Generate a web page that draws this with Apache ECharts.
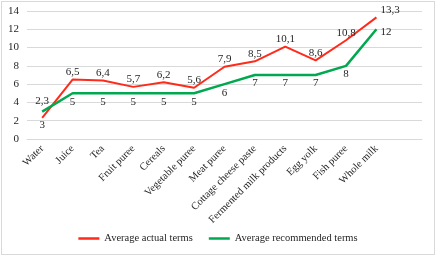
<!DOCTYPE html>
<html><head><meta charset="utf-8">
<script src="https://cdn.jsdelivr.net/npm/echarts@6/dist/echarts.min.js"></script>
<style>html,body{margin:0;padding:0;background:#fff}
#wrap{position:absolute;left:1px;top:1px;width:432px;height:252px;border:1px solid #d9d9d9;}
#c{position:absolute;left:0;top:0;width:436px;height:256px}</style>
</head><body><div id="wrap"></div><div id="c"></div>
<script>
var categories = ['Water','Juice','Tea','Fruit puree','Cereals','Vegetable puree','Meat puree','Cottage cheese paste','Fermented milk products','Egg yolk','Fish puree','Whole milk',''];
var actual = [2.3, 6.5, 6.4, 5.7, 6.2, 5.6, 7.9, 8.5, 10.1, 8.6, 10.8, 13.3];
var recommended = [3, 5, 5, 5, 5, 5, 6, 7, 7, 7, 8, 12];
var yTicks = [0, 2, 4, 6, 8, 10, 12, 14];

var font = '"Liberation Serif", "Times New Roman", serif';
var chart = echarts.init(document.getElementById('c'));
function fmt(p){ return String(p.value).replace('.', ','); }
var last = recommended.length - 1;
var greenData = recommended.map(function(v, i){
  if (i === last) return {value: v, label: {position: 'right', distance: 4, offset:[0,3]}};
  if (i === 0) return {value: v, label: {distance: 8}};
  return v;
});
var redData = actual.map(function(v, i){
  if (i === last) return {value: v, label: {position: 'right', distance: 4, offset:[0,-7]}};
  if (i === 0) return {value: v, label: {distance: 11}};
  return v;
});
chart.setOption({
  animation: false,
  grid: {left: 27, right: 14, top: 11, bottom: 117, containLabel: false},
  legend: {
    bottom: 7, left: 'center', icon: 'rect', itemWidth: 21, itemHeight: 2.5, itemGap: 16, itemTextGap: 2,
    textStyle: {fontFamily: font, fontSize: 10.5, color: '#262626'},
    data: ['Average actual terms', 'Average recommended terms']
  },
  xAxis: {
    type: 'category', data: categories, boundaryGap: true,
    axisLine: {lineStyle: {color: '#d9d9d9'}}, axisTick: {show: false},
    axisLabel: {rotate: 45, interval: 0, fontFamily: font, fontSize: 10.5, color: '#262626', margin: 8}
  },
  yAxis: {
    type: 'value', min: yTicks[0], max: yTicks[yTicks.length-1], interval: 2,
    axisLine: {show: false}, axisTick: {show: false},
    splitLine: {lineStyle: {color: '#d9d9d9', width: 1}},
    axisLabel: {fontFamily: font, fontSize: 11, color: '#262626', margin: 8}
  },
  series: [
    {name: 'Average actual terms', type: 'line', data: redData, symbol: 'circle', symbolSize: 0.1,
     lineStyle: {color: '#ff2a1a', width: 2}, itemStyle: {color: '#ff2a1a'},
     label: {show: true, position: 'top', distance: 2, formatter: fmt, fontFamily: font, fontSize: 11, color: '#262626'}},
    {name: 'Average recommended terms', type: 'line', data: greenData, symbol: 'circle', symbolSize: 0.1,
     lineStyle: {color: '#00a850', width: 2.5}, itemStyle: {color: '#00a850'},
     label: {show: true, position: 'bottom', distance: 3, formatter: fmt, fontFamily: font, fontSize: 11, color: '#262626'}}
  ]
});
</script></body></html>
